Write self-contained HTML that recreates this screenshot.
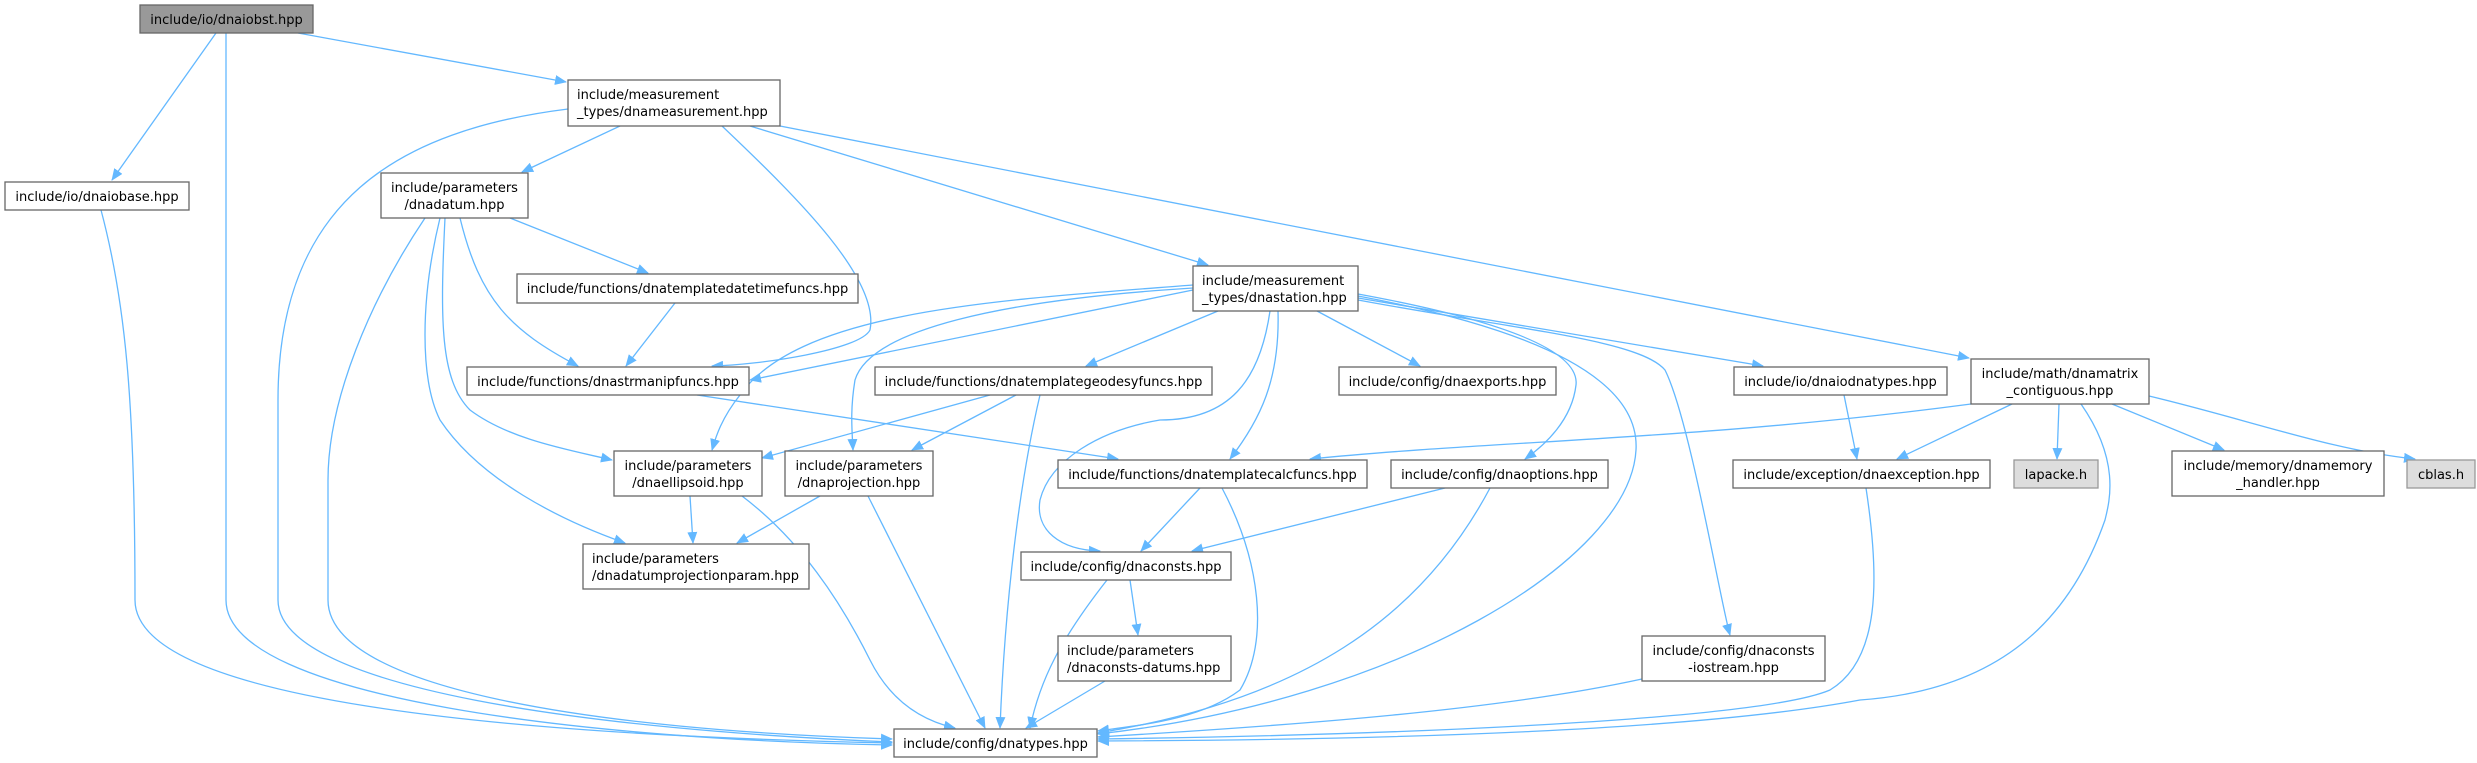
<!DOCTYPE html>
<html><head><meta charset="utf-8"><style>
html,body{margin:0;padding:0;background:#fff;}
svg{display:block}
text{font-family:"DejaVu Sans","Liberation Sans",sans-serif;font-size:13px;fill:#000}
.n{fill:#fff;stroke:#666;stroke-width:1.3}
.e{fill:none;stroke:#63b8ff;stroke-width:1.3;marker-end:url(#a)}
</style></head><body>
<svg width="2477" height="763" viewBox="0 0 2477 763" xmlns="http://www.w3.org/2000/svg">
<defs><marker id="a" markerWidth="12" markerHeight="10" refX="11" refY="5" orient="auto" markerUnits="userSpaceOnUse"><path d="M0,0 L12,5 L0,10 z" fill="#63b8ff"/></marker></defs>
<g>
<path class="e" d="M216,33 L112,180"/>
<path class="e" d="M226,33 L226,600 C226,700 600,740 892,745"/>
<path class="e" d="M298,33 L566,82"/>
<path class="e" d="M101,210 C125,300 135,400 135,600 C135,700 500,735 892,743"/>
<path class="e" d="M568,109 C400,130 278,200 278,400 L278,600 C278,690 600,730 892,742"/>
<path class="e" d="M620,126 L522,172"/>
<path class="e" d="M722,126 C800,200 880,280 870,330 C860,350 760,365 712,366"/>
<path class="e" d="M750,126 L1208,265"/>
<path class="e" d="M780,126 L1969,358"/>
<path class="e" d="M425,218 C370,300 328,400 328,480 L328,600 C328,690 600,730 892,739"/>
<path class="e" d="M440,218 C420,300 420,380 440,420 C480,480 560,520 625,543"/>
<path class="e" d="M445,218 C440,320 440,380 470,410 C510,440 570,450 612,460"/>
<path class="e" d="M460,218 C480,300 510,330 578,366"/>
<path class="e" d="M510,218 L648,273"/>
<path class="e" d="M675,303 L626,366"/>
<path class="e" d="M697,395 L1118,459"/>
<path class="e" d="M690,496 L693,543"/>
<path class="e" d="M742,496 C800,540 840,600 870,660 C890,700 920,720 955,728"/>
<path class="e" d="M820,496 L737,543"/>
<path class="e" d="M868,496 L985,728"/>
<path class="e" d="M1193,290 L750,380"/>
<path class="e" d="M1193,285 C1000,300 800,310 740,395 C720,420 715,440 712,450"/>
<path class="e" d="M1193,288 C1000,300 870,330 855,380 C850,410 852,430 853,450"/>
<path class="e" d="M1218,311 L1086,366"/>
<path class="e" d="M1317,311 L1420,366"/>
<path class="e" d="M1358,298 L1763,366"/>
<path class="e" d="M1278,311 C1280,380 1260,420 1230,459"/>
<path class="e" d="M1270,311 C1260,380 1230,420 1160,420 C1100,430 1050,460 1040,500 C1035,530 1060,550 1100,551"/>
<path class="e" d="M1358,294 C1500,320 1580,350 1576,385 C1572,420 1545,445 1525,459"/>
<path class="e" d="M1358,296 C1540,330 1640,380 1636,450 C1630,560 1400,700 1098,734"/>
<path class="e" d="M1358,300 C1520,330 1640,340 1665,370 C1690,420 1720,600 1730,635"/>
<path class="e" d="M990,395 L762,458"/>
<path class="e" d="M1016,395 L912,450"/>
<path class="e" d="M1040,395 C1020,480 1005,600 1000,728"/>
<path class="e" d="M1200,488 L1141,551"/>
<path class="e" d="M1222,488 C1260,560 1270,640 1240,690 C1200,720 1140,725 1098,731"/>
<path class="e" d="M1445,488 L1192,551"/>
<path class="e" d="M1490,488 C1420,620 1300,700 1098,733"/>
<path class="e" d="M1130,580 L1138,635"/>
<path class="e" d="M1107,580 C1060,640 1040,680 1030,728"/>
<path class="e" d="M1105,681 L1026,728"/>
<path class="e" d="M1642,679 C1500,710 1300,725 1098,737"/>
<path class="e" d="M1844,395 L1857,459"/>
<path class="e" d="M1971,404 C1700,440 1500,440 1310,459"/>
<path class="e" d="M2012,404 L1897,459"/>
<path class="e" d="M2059,404 L2057,459"/>
<path class="e" d="M2112,404 L2224,450"/>
<path class="e" d="M2149,396 C2250,420 2330,450 2415,459"/>
<path class="e" d="M2081,404 C2120,460 2110,500 2105,520 C2070,620 2000,690 1860,700 C1700,730 1400,740 1098,741"/>
<path class="e" d="M1866,488 C1880,580 1880,660 1830,690 C1760,720 1400,735 1098,739"/>
</g>
<g>
<rect x="140" y="5" width="173" height="28" fill="#999" stroke="#666" stroke-width="1.3"/>
<text x="226.5" y="24" text-anchor="middle">include/io/dnaiobst.hpp</text>
<rect class="n" x="5" y="182" width="184" height="28"/>
<text x="97" y="201" text-anchor="middle">include/io/dnaiobase.hpp</text>
<rect class="n" x="568" y="80" width="212" height="46"/>
<text x="577" y="99">include/measurement</text><text x="577" y="116">_types/dnameasurement.hpp</text>
<rect class="n" x="381" y="173" width="147" height="45"/>
<text x="454.5" y="192" text-anchor="middle">include/parameters</text><text x="454.5" y="209" text-anchor="middle">/dnadatum.hpp</text>
<rect class="n" x="517" y="274" width="341" height="29"/>
<text x="687.5" y="293" text-anchor="middle">include/functions/dnatemplatedatetimefuncs.hpp</text>
<rect class="n" x="467" y="367" width="282" height="28"/>
<text x="608" y="386" text-anchor="middle">include/functions/dnastrmanipfuncs.hpp</text>
<rect class="n" x="614" y="451" width="148" height="45"/>
<text x="688" y="470" text-anchor="middle">include/parameters</text><text x="688" y="487" text-anchor="middle">/dnaellipsoid.hpp</text>
<rect class="n" x="583" y="544" width="226" height="45"/>
<text x="592" y="563">include/parameters</text><text x="592" y="580">/dnadatumprojectionparam.hpp</text>
<rect class="n" x="894" y="729" width="203" height="28"/>
<text x="995.5" y="748" text-anchor="middle">include/config/dnatypes.hpp</text>
<rect class="n" x="1193" y="266" width="165" height="45"/>
<text x="1202" y="285">include/measurement</text><text x="1202" y="302">_types/dnastation.hpp</text>
<rect class="n" x="875" y="367" width="337" height="28"/>
<text x="1043.5" y="386" text-anchor="middle">include/functions/dnatemplategeodesyfuncs.hpp</text>
<rect class="n" x="1339" y="367" width="217" height="28"/>
<text x="1447.5" y="386" text-anchor="middle">include/config/dnaexports.hpp</text>
<rect class="n" x="785" y="451" width="148" height="45"/>
<text x="859" y="470" text-anchor="middle">include/parameters</text><text x="859" y="487" text-anchor="middle">/dnaprojection.hpp</text>
<rect class="n" x="1058" y="460" width="309" height="28"/>
<text x="1212.5" y="479" text-anchor="middle">include/functions/dnatemplatecalcfuncs.hpp</text>
<rect class="n" x="1391" y="460" width="217" height="28"/>
<text x="1499.5" y="479" text-anchor="middle">include/config/dnaoptions.hpp</text>
<rect class="n" x="1021" y="552" width="210" height="28"/>
<text x="1126" y="571" text-anchor="middle">include/config/dnaconsts.hpp</text>
<rect class="n" x="1058" y="636" width="173" height="45"/>
<text x="1067" y="655">include/parameters</text><text x="1067" y="672">/dnaconsts-datums.hpp</text>
<rect class="n" x="1642" y="636" width="183" height="45"/>
<text x="1733.5" y="655" text-anchor="middle">include/config/dnaconsts</text><text x="1733.5" y="672" text-anchor="middle">-iostream.hpp</text>
<rect class="n" x="1734" y="367" width="213" height="28"/>
<text x="1840.5" y="386" text-anchor="middle">include/io/dnaiodnatypes.hpp</text>
<rect class="n" x="1971" y="359" width="178" height="45"/>
<text x="2060" y="378" text-anchor="middle">include/math/dnamatrix</text><text x="2060" y="395" text-anchor="middle">_contiguous.hpp</text>
<rect class="n" x="1733" y="460" width="257" height="28"/>
<text x="1861.5" y="479" text-anchor="middle">include/exception/dnaexception.hpp</text>
<rect x="2014" y="460" width="84" height="28" fill="#ddd" stroke="#999" stroke-width="1.3"/>
<text x="2056" y="479" text-anchor="middle">lapacke.h</text>
<rect class="n" x="2172" y="451" width="212" height="45"/>
<text x="2278" y="470" text-anchor="middle">include/memory/dnamemory</text><text x="2278" y="487" text-anchor="middle">_handler.hpp</text>
<rect x="2407" y="460" width="68" height="28" fill="#ddd" stroke="#999" stroke-width="1.3"/>
<text x="2441" y="479" text-anchor="middle">cblas.h</text>
</g>
</svg>
</body></html>
